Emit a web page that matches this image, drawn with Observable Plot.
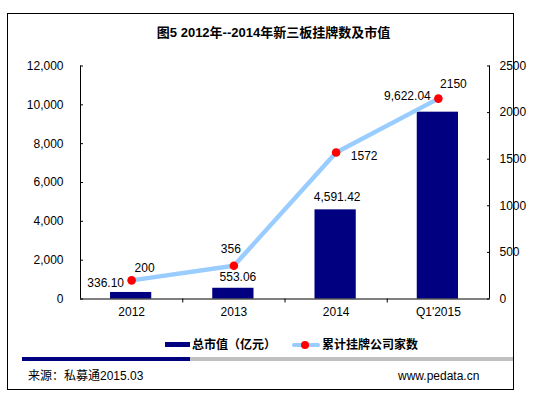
<!DOCTYPE html>
<html>
<head>
<meta charset="utf-8">
<script src="https://cdn.jsdelivr.net/npm/d3@7"></script>
<script src="https://cdn.jsdelivr.net/npm/@observablehq/plot@0.6"></script>
<style>
  html, body { margin: 0; padding: 0; background: #fff; }
  body { font-family: "Liberation Sans", Arial, "Noto Sans CJK SC", sans-serif; color: #000; }
  #wrap { position: relative; width: 547px; height: 399px; overflow: hidden; }
  #frame { position: absolute; left: 7px; top: 13px; width: 505px; height: 375px; border: 1px solid #000; box-sizing: content-box; }
  #title { position: absolute; left: 0; width: 547px; top: 24px; text-align: center; font-weight: bold; font-size: 13px; line-height: 17px; white-space: nowrap; }
  #chart { position: absolute; left: 0; top: 0; }
  .leg { position: absolute; top: 337px; font-size: 12px; font-weight: bold; line-height: 16px; white-space: nowrap; }
  .sw { position: absolute; }
  #stripeA { position: absolute; left: 22px; top: 357px; width: 168px; height: 4px; background: #000080; }
  #stripeB { position: absolute; left: 190px; top: 357px; width: 323px; height: 4px; background: #c0c0c0; }
  .foot { position: absolute; top: 368px; font-size: 12px; line-height: 16px; white-space: nowrap; }
</style>
</head>
<body>
<div id="wrap">
  <div id="frame"></div>
  <div id="title">图5 2012年--2014年新三板挂牌数及市值</div>
  <div id="chart"></div>
  <div class="sw" style="left:165px;top:342px;width:25px;height:5px;background:#000080;"></div>
  <div class="leg" style="left:192px;">总市值（亿元）</div>
  <div class="sw" style="left:292px;top:343px;width:28px;height:4px;background:#99ccff;border-radius:2px;"></div>
  <div class="sw" style="left:301px;top:341px;width:8px;height:8px;background:#ff0000;border-radius:50%;"></div>
  <div class="leg" style="left:322px;">累计挂牌公司家数</div>
  <div id="stripeA"></div>
  <div id="stripeB"></div>
  <div class="foot" style="left:28px;">来源：私募通2015.03</div>
  <div class="foot" style="left:398px;">www.pedata.cn</div>
</div>
<script>
// ---- data ----
const years = ["2012", "2013", "2014", "Q1'2015"];
const marketCap = [336.10, 553.06, 4591.42, 9622.04];   // 总市值（亿元）, left axis
const listedCount = [200, 356, 1572, 2150];              // 累计挂牌公司家数, right axis
const leftTicks = [0, 2000, 4000, 6000, 8000, 10000, 12000];
const rightTicks = [0, 500, 1000, 1500, 2000, 2500];

// ---- layout (label nudges in px, not data) ----
const barLabelNudge = [[-26, -9], [4, -11], [1, -13], [-31, -16]];
const lineLabelNudge = [[13, -12], [-3, -17], [28, 4], [15, -14]];

const leftMax = 12000, rightMax = 2500, k = leftMax / rightMax;
const rows = years.map((y, i) => ({i, year: y, cap: marketCap[i], count: listedCount[i]}));
const fmtCap = d3.format(",.2f");

const marks = [
  Plot.rectY(rows, {x1: d => d.i, x2: d => d.i + 1, y: "cap", fill: "#000080", insetLeft: 30, insetRight: 31}),
  Plot.ruleY([0], {stroke: "#000"}),
  Plot.ruleX([0], {stroke: "#000"}),
  Plot.ruleX([years.length], {stroke: "#000"}),
  Plot.axisY(leftTicks, {anchor: "left", label: null, tickSize: -3, tickPadding: 20, tickFormat: d3.format(","), fontSize: 12}),
  Plot.axisY(rightTicks.map(t => t * k), {anchor: "right", label: null, tickSize: -3, tickPadding: 13, tickFormat: d => String(Math.round(d / k)), fontSize: 12}),
  Plot.axisX(d3.range(1, years.length), {anchor: "bottom", label: null, tickSize: 4, tickFormat: () => ""}),
  Plot.axisX(years.map((_, i) => i + 0.5), {anchor: "bottom", label: null, tickSize: 0, tickPadding: 8, tickFormat: d => years[Math.floor(d)], fontSize: 12}),
  Plot.line(rows, {x: d => d.i + 0.5, y: d => d.count * k, stroke: "#99ccff", strokeWidth: 4.5, strokeLinecap: "round", strokeLinejoin: "round"}),
  Plot.dot(rows, {x: d => d.i + 0.5, y: d => d.count * k, r: 4.3, fill: "#ff0000"})
];
rows.forEach((r, i) => {
  marks.push(Plot.text([r], {x: d => d.i + 0.5, y: "cap", text: d => fmtCap(d.cap), dx: barLabelNudge[i][0], dy: barLabelNudge[i][1], fontSize: 12, fill: "#000"}));
  marks.push(Plot.text([r], {x: d => d.i + 0.5, y: d => d.count * k, text: d => String(d.count), dx: lineLabelNudge[i][0], dy: lineLabelNudge[i][1], fontSize: 12, fill: "#000"}));
});

const chart = Plot.plot({
  width: 547,
  height: 399,
  marginLeft: 80,
  marginRight: 58,
  marginTop: 65.5,
  marginBottom: 100.5,
  style: {background: "transparent", fontFamily: "'Liberation Sans', Arial, 'Noto Sans CJK SC', sans-serif", fontSize: "12px", color: "#000"},
  x: {type: "linear", domain: [0, years.length], label: null},
  y: {domain: [0, leftMax], label: null},
  marks
});
document.getElementById("chart").appendChild(chart);
</script>
</body>
</html>
